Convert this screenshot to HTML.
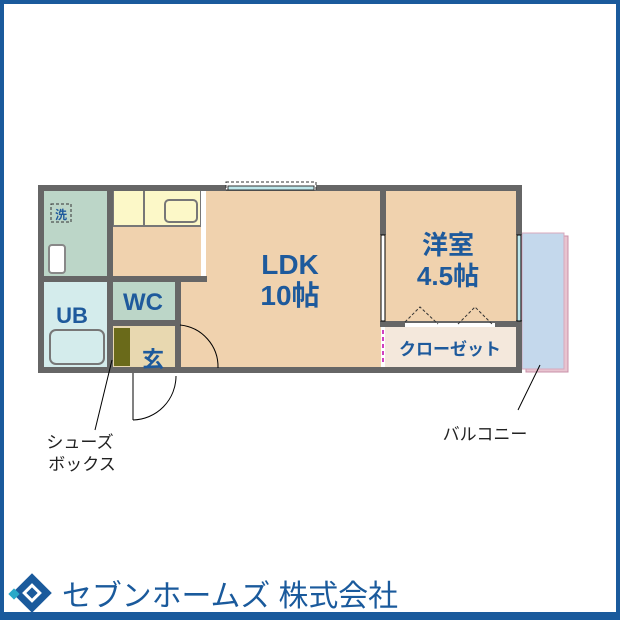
<!DOCTYPE html>
<html><head><meta charset="utf-8"><style>
html,body{margin:0;padding:0;background:#fff}
svg{display:block}
text{font-family:"Liberation Sans","Noto Sans CJK JP",sans-serif}
</style></head><body>
<svg width="620" height="620" viewBox="0 0 620 620" xmlns="http://www.w3.org/2000/svg">
<rect x="2" y="2" width="616" height="616" fill="#fff" stroke="#1a5a9c" stroke-width="4"/>
<rect x="526" y="236" width="42" height="136" fill="#e8c4d0" stroke="#c890a8"/>
<rect x="522" y="233" width="42" height="136" fill="#c4d8ec" stroke="#d8a8bc"/>
<rect x="41" y="188" width="478" height="182" fill="#f0d2ae"/>
<rect x="41" y="188" width="69" height="91" fill="#bcd6c8"/>
<rect x="41" y="279" width="69" height="91" fill="#d4ecec"/>
<rect x="110" y="279" width="68" height="44" fill="#bcd6c8"/>
<rect x="110" y="323" width="68" height="47" fill="#e8d8b0"/>
<rect x="114" y="328" width="16" height="38" fill="#6a6a1a"/>
<rect x="113" y="190" width="88" height="36" fill="#fcf8c8" stroke="#777" stroke-width="2"/>
<line x1="144" y1="190" x2="144" y2="226" stroke="#777" stroke-width="2"/>
<rect x="165" y="200" width="32" height="22" rx="4" fill="#fcf8c8" stroke="#777" stroke-width="2"/>
<rect x="201" y="188" width="5" height="91" fill="#fff"/>
<rect x="383" y="324" width="136" height="46" fill="#f4e8dc"/>
<rect x="50" y="330" width="54" height="34" rx="6" fill="#d4ecec" stroke="#777" stroke-width="2"/>
<rect x="49" y="245" width="16" height="28" rx="3" fill="#fff" stroke="#888" stroke-width="2"/>
<rect x="51" y="204" width="20" height="18" fill="none" stroke="#333" stroke-dasharray="3,2"/>
<g fill="#666">
<rect x="38" y="185" width="484" height="6"/>
<rect x="38" y="367" width="484" height="6"/>
<rect x="38" y="185" width="6" height="188"/>
<rect x="516" y="185" width="6" height="50"/>
<rect x="516" y="320" width="6" height="53"/>
<rect x="107" y="185" width="6" height="188"/>
<rect x="38" y="276" width="70" height="6"/>
<rect x="107" y="276" width="100" height="6"/>
<rect x="175" y="276" width="6" height="97"/>
<rect x="107" y="320" width="71" height="6"/>
<rect x="380" y="185" width="6" height="50"/>
<rect x="380" y="321" width="139" height="6"/>
</g>
<rect x="226" y="182" width="90" height="8" fill="#fff" stroke="#333" stroke-dasharray="3,2"/>
<rect x="228" y="186" width="86" height="4" fill="#bfe8ec" stroke="#333" stroke-width="1"/>
<rect x="381" y="235" width="4" height="86" fill="#fff" stroke="#000"/>
<rect x="517" y="235" width="4" height="86" fill="#bfe8ec" stroke="#000"/>
<rect x="381" y="327" width="4" height="40" fill="#fff"/>
<line x1="383" y1="330" x2="383" y2="365" stroke="#d040c0" stroke-width="2" stroke-dasharray="4,3"/>
<line x1="405" y1="325" x2="495" y2="325" stroke="#fff" stroke-width="4"/>
<path d="M405 322 L420 307 L438 324 M458 324 L475 307 L492 324" fill="none" stroke="#333" stroke-dasharray="3,2"/>
<path d="M180 325 A42 42 0 0 1 218 368" fill="none" stroke="#000"/>
<path d="M133 373 L133 420 M133 420 A44 44 0 0 0 176 376" fill="none" stroke="#000"/>
<line x1="112" y1="360" x2="95" y2="430" stroke="#000"/>
<line x1="540" y1="365" x2="518" y2="410" stroke="#000"/>
<g fill="#1e5a9c" font-weight="bold" text-anchor="middle">
<text x="290" y="274" font-size="28">LDK</text>
<text x="290" y="305" font-size="28">10帖</text>
<text x="448" y="254" font-size="26">洋室</text>
<text x="448" y="285" font-size="26">4.5帖</text>
<text x="143" y="310" font-size="24">WC</text>
<text x="72" y="323" font-size="22">UB</text>
<text x="153" y="367" font-size="22">玄</text>
<text x="450" y="355" font-size="17">クローゼット</text>
<text x="61" y="219" font-size="12">洗</text>
</g>
<g fill="#222" font-size="17" text-anchor="middle">
<text x="80" y="448">シューズ</text>
<text x="82" y="470">ボックス</text>
<text x="485" y="440">バルコニー</text>
</g>
<g transform="translate(32,593) rotate(45)">
<rect x="-14" y="-14" width="28" height="28" fill="#1a5a9c"/>
<rect x="-7" y="-7" width="14" height="14" fill="#fff"/>
<rect x="-4" y="-4" width="8" height="8" fill="#1a5a9c"/>
</g>
<rect x="10" y="590" width="8" height="8" fill="#2aa8c8" transform="rotate(45 14 594)"/>
<text x="62" y="606" font-size="30" fill="#1a5a9c" textLength="336" lengthAdjust="spacingAndGlyphs">セブンホームズ 株式会社</text>
<rect x="0" y="612" width="620" height="8" fill="#1a5a9c"/>
</svg>
</body></html>
